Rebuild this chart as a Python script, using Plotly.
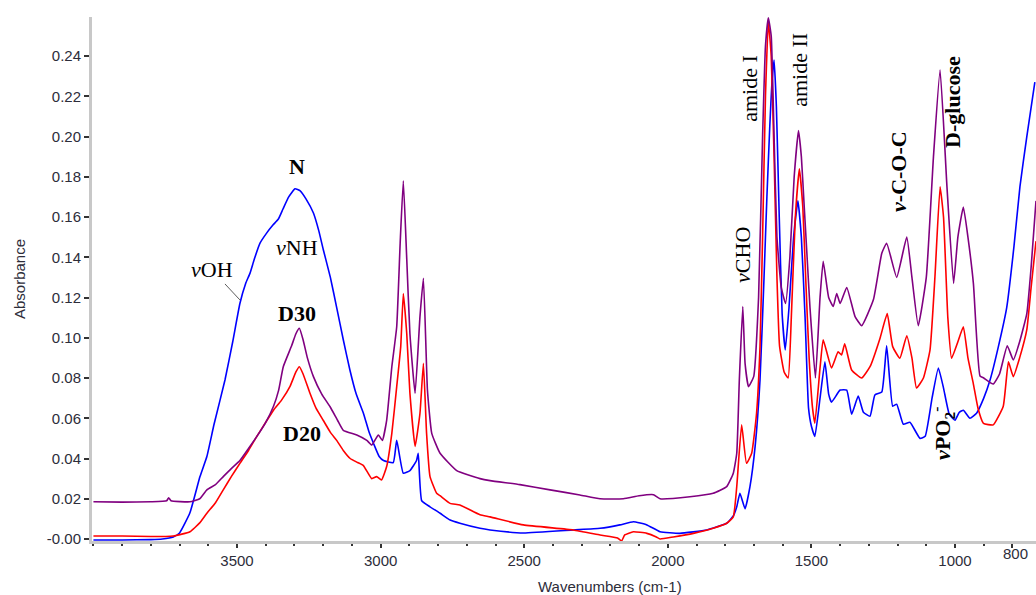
import plotly.graph_objects as go

# ---------------- data ----------------
wn_N = [4000, 3900, 3800, 3760, 3722, 3700, 3664, 3629, 3605, 3580, 3542, 3515, 3490, 3470, 3455, 3440,
        3420, 3397, 3375, 3356, 3340, 3320, 3298, 3280, 3260, 3234, 3215, 3200, 3175, 3153, 3130, 3107,
        3085, 3060, 3040, 3025, 3005, 2990, 2956, 2944, 2921, 2898, 2875, 2869, 2857, 2828, 2793,
        2758, 2724, 2654, 2619, 2503, 2329, 2236, 2167, 2120, 2073, 2027, 1958, 1865, 1795, 1772, 1760,
        1749, 1731, 1714, 1696, 1679, 1665, 1655, 1645, 1637, 1630, 1622, 1612, 1602, 1591, 1578, 1562,
        1547, 1535, 1522, 1510, 1500, 1488, 1470, 1453, 1440, 1430, 1400, 1377, 1360, 1337, 1319, 1296,
        1279, 1255, 1238, 1217, 1203, 1180, 1157, 1122, 1104, 1080, 1058, 1040, 1020, 1000, 985, 971,
        948, 925, 900, 878, 850, 820, 795, 774, 750, 722]
abs_N = [-0.0005, -0.0005, -0.0003, 0.0, 0.001, 0.003, 0.013, 0.031, 0.041, 0.057, 0.079, 0.098, 0.117, 0.127, 0.132, 0.139,
         0.147, 0.152, 0.156, 0.159, 0.164, 0.170, 0.174, 0.173, 0.169, 0.162, 0.153, 0.144, 0.130, 0.115, 0.099, 0.084,
         0.072, 0.0625, 0.053, 0.0476, 0.041, 0.039, 0.038, 0.049, 0.0327, 0.034, 0.039, 0.0426, 0.019, 0.016, 0.0128,
         0.0094, 0.0078, 0.0053, 0.0045, 0.003, 0.0045, 0.0053, 0.007, 0.0086, 0.007, 0.0036, 0.0028, 0.0045, 0.0078, 0.0115, 0.016,
         0.0227, 0.015, 0.026, 0.046, 0.079, 0.13, 0.17, 0.205, 0.228, 0.238, 0.215, 0.16, 0.112, 0.094, 0.115, 0.15,
         0.168, 0.15, 0.11, 0.065, 0.056, 0.051, 0.07, 0.088, 0.072, 0.068, 0.074, 0.074, 0.062, 0.071, 0.063, 0.061,
         0.0716, 0.073, 0.096, 0.066, 0.067, 0.057, 0.058, 0.050, 0.051, 0.07, 0.085, 0.075, 0.062, 0.059, 0.063, 0.064,
         0.060, 0.0625, 0.070, 0.079, 0.095, 0.115, 0.145, 0.175, 0.200, 0.227]

wn_D20 = [4000, 3900, 3800, 3722, 3664, 3630, 3605, 3575, 3548, 3520, 3490, 3460, 3431, 3400, 3373, 3345,
          3315, 3295, 3283, 3270, 3246, 3225, 3200, 3175, 3153, 3130, 3106, 3080,
          3060, 3031, 3014, 2997, 2979, 2961, 2944, 2930, 2921, 2909, 2898, 2880, 2863, 2851, 2840, 2828,
          2805, 2793, 2758, 2724, 2654, 2619, 2503, 2329, 2236, 2175, 2161, 2150, 2120, 2073, 2040, 2027,
          1981, 1911, 1842, 1795, 1772, 1760, 1743, 1726, 1708, 1691, 1679, 1670, 1660, 1650, 1640, 1630,
          1620, 1611, 1595, 1581, 1570, 1556, 1542, 1530, 1520, 1508, 1496, 1488, 1470, 1459, 1430, 1407,
          1395, 1384, 1360, 1325, 1296, 1261, 1236, 1217, 1192, 1168, 1150, 1134, 1110, 1087, 1070, 1052,
          1040, 1025, 1012, 990, 971, 955, 936, 920, 901, 867, 832, 814, 797, 775, 750, 735, 718]
abs_D20 = [0.0015, 0.0015, 0.0012, 0.0015, 0.0036, 0.008, 0.0128, 0.018, 0.0244, 0.031, 0.0376, 0.044, 0.051, 0.058, 0.064, 0.069,
           0.076, 0.083, 0.0856, 0.082, 0.0724, 0.065, 0.059, 0.053, 0.049, 0.044, 0.040, 0.038,
           0.0365, 0.030, 0.031, 0.0293, 0.036, 0.0525, 0.0757, 0.0956, 0.122, 0.102, 0.0724, 0.046, 0.0625, 0.0873, 0.0525, 0.031,
           0.0227, 0.0215, 0.0177, 0.0169, 0.012, 0.011, 0.007, 0.0045, 0.002, 0.0005, -0.001, 0.002, 0.0036, 0.0028, 0.001, 0.0,
           0.001, 0.0028, 0.0053, 0.0078, 0.011, 0.026, 0.0567, 0.0376, 0.0426, 0.0625, 0.0956, 0.15, 0.22, 0.257, 0.24, 0.19,
           0.13, 0.096, 0.083, 0.080, 0.11, 0.16, 0.184, 0.165, 0.13, 0.09, 0.065, 0.0575, 0.085, 0.099, 0.085, 0.093,
           0.0915, 0.097, 0.084, 0.080, 0.0856, 0.0998, 0.112, 0.0956, 0.0898, 0.101, 0.09, 0.075, 0.08, 0.094, 0.13, 0.175,
           0.16, 0.11, 0.0898, 0.098, 0.1055, 0.09, 0.077, 0.065, 0.0575, 0.0567, 0.066, 0.088, 0.0807, 0.09, 0.104, 0.125, 0.148]

wn_D30 = [4000, 3900, 3800, 3745, 3738, 3730, 3664, 3630, 3605, 3575, 3548, 3520, 3490, 3460, 3431, 3400,
          3373, 3355, 3339, 3310, 3295, 3283, 3270, 3255, 3234, 3205, 3176, 3150, 3130, 3083, 3048, 3031,
          3008, 2994, 2979, 2961, 2944, 2932, 2921, 2909, 2898,
          2880, 2863, 2851, 2837, 2822, 2793, 2735, 2654, 2619, 2515, 2410, 2306, 2236, 2155, 2100, 2050,
          2027, 1923, 1842, 1795, 1772, 1760, 1751, 1739, 1731, 1719, 1701, 1684, 1670, 1660, 1650, 1640,
          1630, 1620, 1605, 1590, 1575, 1560, 1545, 1535, 1525, 1515, 1505, 1486, 1470, 1459, 1440, 1424,
          1412, 1400, 1377, 1348, 1325, 1284, 1255, 1238, 1203, 1168, 1150, 1128, 1100, 1075, 1052, 1028,
          1005, 990, 971, 955, 936, 913, 900, 867, 845, 818, 797, 775, 750, 735, 718]
abs_D30 = [0.0185, 0.0183, 0.0185, 0.019, 0.0205, 0.019, 0.0185, 0.020, 0.0244, 0.027, 0.031, 0.035, 0.039, 0.045, 0.051, 0.058,
           0.066, 0.074, 0.0856, 0.096, 0.102, 0.1047, 0.099, 0.090, 0.0807, 0.072, 0.0657, 0.059, 0.054, 0.0517, 0.049, 0.0467,
           0.0517, 0.049, 0.059, 0.0856, 0.1055, 0.147, 0.178, 0.139, 0.102,
           0.0724, 0.1105, 0.1296, 0.074, 0.0525, 0.0426, 0.034, 0.030, 0.029, 0.027, 0.0244, 0.0219, 0.020, 0.020, 0.0215, 0.022,
           0.020, 0.021, 0.0227, 0.026, 0.0327, 0.0426, 0.079, 0.1155, 0.0873, 0.0757, 0.0807, 0.12, 0.20, 0.245, 0.259, 0.25,
           0.20, 0.15, 0.125, 0.117, 0.14, 0.18, 0.203, 0.19, 0.165, 0.14, 0.115, 0.080, 0.12, 0.138, 0.12, 0.1155,
           0.122, 0.117, 0.125, 0.1105, 0.106, 0.119, 0.142, 0.147, 0.130, 0.150, 0.13, 0.106, 0.13, 0.19, 0.233, 0.175,
           0.127, 0.15, 0.165, 0.15, 0.127, 0.081, 0.080, 0.077, 0.082, 0.096, 0.089, 0.098, 0.112, 0.135, 0.168]

y_ticks = [0.0, 0.02, 0.04, 0.06, 0.08, 0.10, 0.12, 0.14, 0.16, 0.18, 0.20, 0.22, 0.24]
y_ticktext = ["-0.00", "0.02", "0.04", "0.06", "0.08", "0.10", "0.12", "0.14", "0.16", "0.18", "0.20", "0.22", "0.24"]
x_ticks = [3500, 3000, 2500, 2000, 1500, 1000, 800]
x_ticktext = ["3500", "3000", "2500", "2000", "1500", "1000", ""]

# ---------------- figure ----------------
fig = go.Figure()
fig.add_trace(go.Scatter(x=wn_N, y=abs_N, mode="lines", name="N",
                         line=dict(color="#0000ff", width=1.6, shape="spline", smoothing=0.4)))
fig.add_trace(go.Scatter(x=wn_D20, y=abs_D20, mode="lines", name="D20",
                         line=dict(color="#ff0000", width=1.6, shape="spline", smoothing=0.4)))
fig.add_trace(go.Scatter(x=wn_D30, y=abs_D30, mode="lines", name="D30",
                         line=dict(color="#800080", width=1.6, shape="spline", smoothing=0.4)))

tickfont = dict(family="Liberation Sans, Arial, sans-serif", size=15, color="#2d2d3a")
serif = "Liberation Serif, Times New Roman, serif"

fig.update_layout(
    width=1036, height=595,
    margin=dict(l=92, r=0, t=17, b=54),
    paper_bgcolor="white", plot_bgcolor="white",
    showlegend=False,
    xaxis=dict(range=[4005, 718], showgrid=False, zeroline=False,
               showline=True, linecolor="#c8c8c8", linewidth=3,
               ticks="outside", ticklen=4, tickwidth=1.5, tickcolor="#333333",
               tickmode="array", tickvals=x_ticks, ticktext=x_ticktext,
               tickfont=tickfont,
               minor=dict(tickmode="linear", tick0=0, dtick=100, ticks="outside",
                          ticklen=2, tickwidth=2, tickcolor="#333333")),
    yaxis=dict(range=[-0.001, 0.2594], showgrid=False, zeroline=False,
               showline=True, linecolor="#c8c8c8", linewidth=3,
               ticks="outside", ticklen=5, tickwidth=1.5, tickcolor="#333333",
               tickmode="array", tickvals=y_ticks, ticktext=y_ticktext,
               tickfont=tickfont),
)

ann = []
# axis titles
ann.append(dict(text="Wavenumbers (cm-1)", xref="paper", yref="paper", x=0.5487, y=-0.086,
                xanchor="center", yanchor="middle", showarrow=False,
                font=dict(family="Liberation Sans, Arial, sans-serif", size=15, color="#2d2d3a")))
ann.append(dict(text="Absorbance", xref="paper", yref="paper", x=-0.0773, y=0.50,
                xanchor="center", yanchor="middle", showarrow=False, textangle=-90,
                font=dict(family="Liberation Sans, Arial, sans-serif", size=15, color="#2d2d3a")))
# raised "800" tick label
ann.append(dict(text="800", xref="x", yref="paper", x=790, y=-0.024,
                xanchor="center", yanchor="middle", showarrow=False,
                font=tickfont))

def lab(text, x, y, angle=0, size=22):
    return dict(text=text, xref="x", yref="y", x=x, y=y, xanchor="center", yanchor="middle",
                showarrow=False, textangle=angle, font=dict(family=serif, size=size, color="black"))

ann.append(lab("<b>N</b>", 3291, 0.1849))
ann.append(lab("<i>v</i>NH", 3291, 0.1451))
ann.append(lab("<b>D30</b>", 3291, 0.1123))
ann.append(lab("<b>D20</b>", 3274, 0.0522))
ann.append(dict(text="<i>v</i>OH", xref="x", yref="y", x=3490, y=0.1188, ax=-28, ay=-30,
                showarrow=True, arrowhead=0, arrowwidth=0.8, arrowcolor="#333333", standoff=0,
                font=dict(family=serif, size=22, color="black")))
ann.append(lab("<i>v</i>CHO", 1738, 0.1412, angle=-90))
ann.append(lab("amide I", 1714, 0.2242, angle=-90))
ann.append(lab("amide II", 1540, 0.2331, angle=-90))
ann.append(lab("<b><i>ν</i>-C-O-C</b>", 1195, 0.1824, angle=-90))
ann.append(lab("<b>D-glucose</b>", 1007, 0.2172, angle=-90))
ann.append(lab("<b><i>v</i>PO<sub>2</sub><sup>-</sup></b>", 1042, 0.0527, angle=-90))

fig.update_layout(annotations=ann)
fig.write_html("out.html")
